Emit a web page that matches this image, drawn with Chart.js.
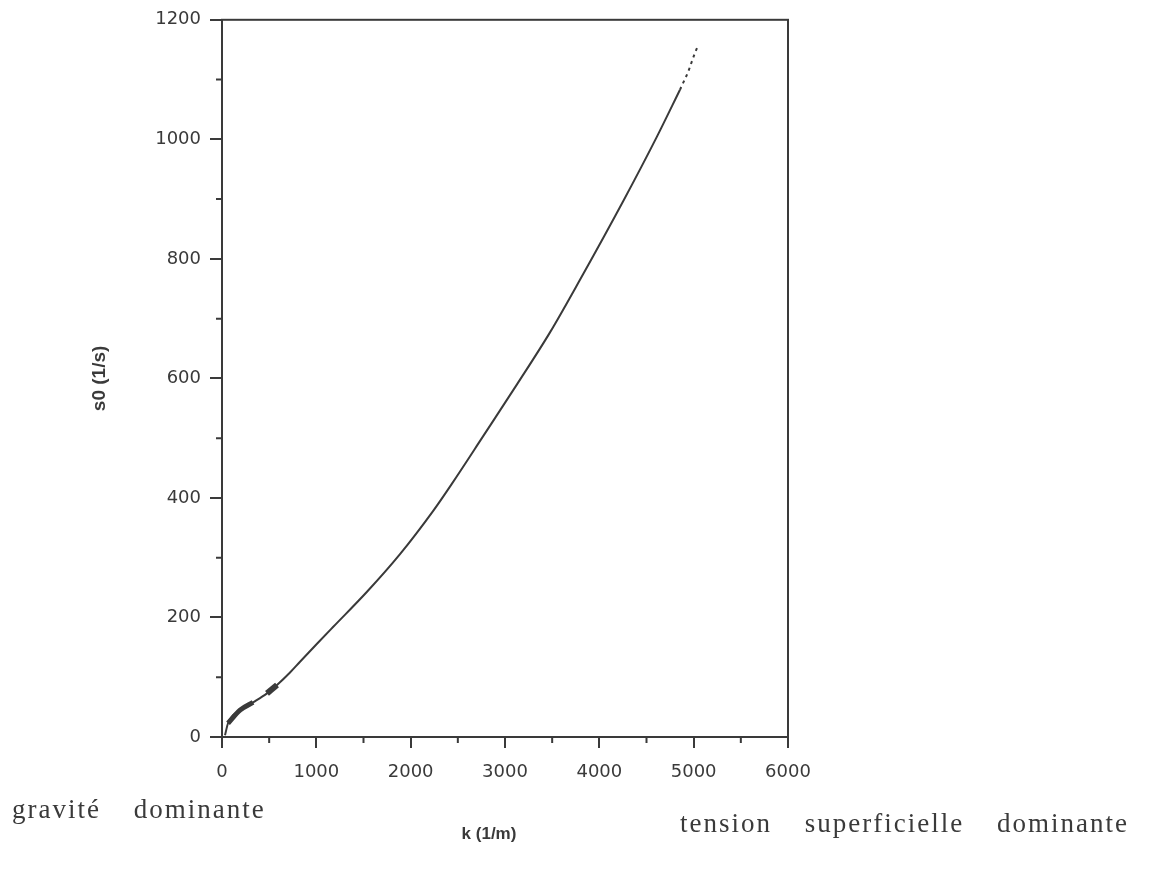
<!DOCTYPE html>
<html>
<head>
<meta charset="utf-8">
<script src="https://cdn.jsdelivr.net/npm/chart.js@4/dist/chart.umd.min.js"></script>
<style>
  html, body { margin: 0; padding: 0; background: #fff; }
  #wrap { position: relative; width: 1150px; height: 881px; }
  .note {
    position: absolute;
    font-family: "Liberation Serif", "DejaVu Serif", serif;
    font-size: 27px;
    color: #3a3a3a;
    letter-spacing: 2px;
    word-spacing: 24px;
    white-space: nowrap;
  }
</style>
</head>
<body>
<div id="wrap">
  <canvas id="chart" width="1150" height="881"></canvas>
  <div class="note" style="left: 12px; top: 794px;">gravité dominante</div>
  <div class="note" style="left: 680px; top: 808px;">tension superficielle dominante</div>
</div>
<script>
const kValues = [32, 64, 191, 329, 477, 583, 721, 827, 1007, 1177, 1537, 1887, 2237, 2438, 2767, 3127, 3477, 3795, 4251, 4612, 4855];
const sValues = [3, 23, 45, 58, 73, 87, 108, 126, 156, 184, 243, 306, 378, 424, 503, 590, 677, 765, 896, 1005, 1083];

// faint dotted tail at the top end
const tailK = [4855, 4940, 5014, 5036];
const tailS = [1083, 1112, 1145, 1153];

// thick ink blobs near the origin
const blobK = [64, 191, 329];
const blobS = [23, 45, 58];
const blob2K = [477, 583];
const blob2S = [73, 87];

const xTicks = [0, 1000, 2000, 3000, 4000, 5000, 6000];
const yTicks = [0, 200, 400, 600, 800, 1000, 1200];

const ink = "#3a3a3a";
const tickFont = { family: "'DejaVu Sans', Arial, sans-serif", size: 18 };
const toPoints = (xs, ys) => xs.map((x, i) => ({ x: x, y: ys[i] }));

// frame + minor ticks + x title
const framePlugin = {
    id: "frame",
    afterDraw(chart) {
        const ctx = chart.ctx;
        const a = chart.chartArea;
        const xs = chart.scales.x;
        const ys = chart.scales.y;
        ctx.save();
        ctx.strokeStyle = ink;
        ctx.lineWidth = 2;
        ctx.strokeRect(a.left, a.top, a.right - a.left, a.bottom - a.top);

        ctx.beginPath();
        for (let v = 500; v < 6000; v += 1000) {
            const px = xs.getPixelForValue(v);
            ctx.moveTo(px, a.bottom);
            ctx.lineTo(px, a.bottom + 6);
        }
        for (let v = 100; v < 1200; v += 200) {
            const py = ys.getPixelForValue(v);
            ctx.moveTo(a.left, py);
            ctx.lineTo(a.left - 6, py);
        }
        ctx.stroke();

        ctx.fillStyle = ink;
        ctx.font = "bold 17px 'Liberation Sans', Arial, sans-serif";
        ctx.textAlign = "center";
        ctx.textBaseline = "middle";
        ctx.fillText("k (1/m)", 489, 834);
        ctx.restore();
    },
};

new Chart(document.getElementById("chart"), {
    type: "scatter",
    data: {
        datasets: [
            {
                data: toPoints(kValues, sValues),
                showLine: true,
                borderColor: ink,
                borderWidth: 2,
                pointRadius: 0,
                cubicInterpolationMode: "monotone",
            },
            {
                data: toPoints(tailK, tailS),
                showLine: true,
                borderColor: ink,
                borderWidth: 2,
                borderDash: [3, 4],
                pointRadius: 0,
            },
            {
                data: toPoints(blobK, blobS),
                showLine: true,
                borderColor: ink,
                borderWidth: 5,
                pointRadius: 0,
                cubicInterpolationMode: "monotone",
            },
            {
                data: toPoints(blob2K, blob2S),
                showLine: true,
                borderColor: ink,
                borderWidth: 6,
                pointRadius: 0,
            },
        ],
    },
    options: {
        responsive: false,
        animation: false,
        layout: {
            padding: { left: 0, right: 362, top: 17, bottom: 0 },
        },
        plugins: {
            legend: { display: false },
            tooltip: { enabled: false },
        },
        scales: {
            x: {
                type: "linear",
                min: 0,
                max: 6000,
                afterFit(scale) {
                    scale.height = 144;
                },
                afterBuildTicks(scale) {
                    scale.ticks = xTicks.map((v) => ({ value: v }));
                },
                border: { display: false },
                grid: {
                    drawOnChartArea: false,
                    color: ink,
                    lineWidth: 2,
                    tickLength: 11,
                },
                ticks: {
                    color: ink,
                    padding: 14,
                    maxRotation: 0,
                    font: tickFont,
                    callback: (v) => String(v),
                },
            },
            y: {
                type: "linear",
                min: 0,
                max: 1200,
                afterFit(scale) {
                    scale.width = 222;
                },
                afterBuildTicks(scale) {
                    scale.ticks = yTicks.map((v) => ({ value: v }));
                },
                border: { display: false },
                grid: {
                    drawOnChartArea: false,
                    color: ink,
                    lineWidth: 2,
                    tickLength: 12,
                },
                ticks: {
                    color: ink,
                    padding: 9,
                    font: tickFont,
                    callback: (v) => String(v),
                },
                title: {
                    display: true,
                    text: "s0 (1/s)",
                    color: ink,
                    padding: { top: 88, bottom: 0 },
                    font: { family: "'Liberation Sans', Arial, sans-serif", size: 19, weight: "bold" },
                },
            },
        },
    },
    plugins: [framePlugin],
});
</script>
</body>
</html>
